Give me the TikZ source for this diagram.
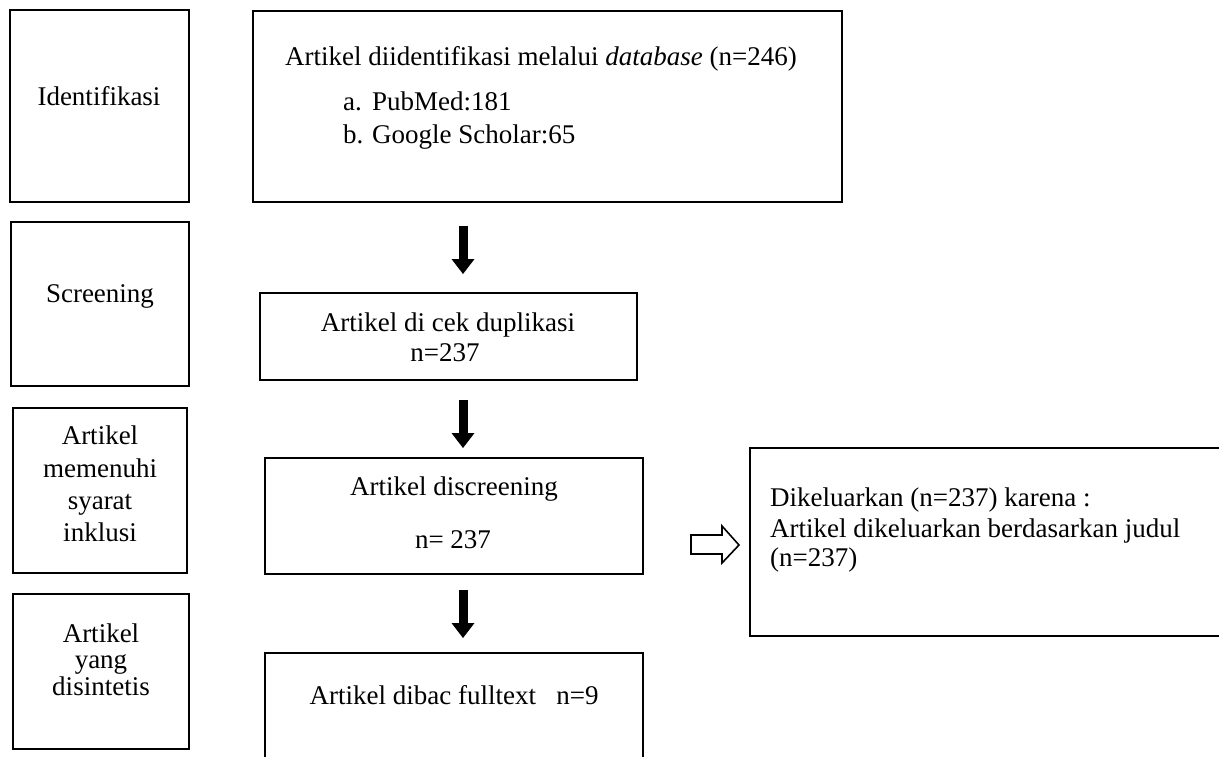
\documentclass[tikz,border=0pt]{standalone}
\usepackage{fontspec}
\setmainfont{Liberation Serif}
\usetikzlibrary{arrows.meta}
\tikzset{
  every node/.style={font=\fontsize{27}{31}\selectfont},
  box/.style={draw, line width=2pt, inner sep=0pt, rectangle},
  txt/.style={inner sep=0pt, anchor=base},
  txtl/.style={inner sep=0pt, anchor=base west},
  bigarrow/.style={line width=9pt, -{Triangle[width=23pt,length=15pt,line width=0pt]}},
  hollow/.style={draw, line width=1.6pt, fill=white, line join=miter}
}
\begin{document}
\begin{tikzpicture}[x=1pt,y=-1pt]
\useasboundingbox (0,0) rectangle (1219,756);
\clip (0,0) rectangle (1219,756);
% left column
\node[box, minimum width=179, minimum height=192] (l1) at (99.5,106) {};
\node[box, minimum width=178, minimum height=164] (l2) at (100,304) {};
\node[box, minimum width=174, minimum height=165] (l3) at (100,490.5) {};
\node[box, minimum width=176, minimum height=155] (l4) at (101,671.5) {};
\node[txt] (l1t) at (99,105) {Identifikasi};
\node[txt] (l2t) at (100,302) {Screening};
\node[txt] (l3a) at (100,444) {Artikel};
\node[txt] (l3b) at (100,477) {memenuhi};
\node[txt] (l3c) at (100,509) {syarat};
\node[txt] (l3d) at (100,541) {inklusi};
\node[txt] (l4a) at (101,642) {Artikel};
\node[txt] (l4b) at (101,668.5) {yang};
\node[txt] (l4c) at (101,695) {disintetis};
% main column
\node[box, minimum width=589, minimum height=191] (m1) at (547.5,106.5) {};
\node[box, minimum width=377, minimum height=87] (m2) at (448.5,336.5) {};
\node[box, minimum width=378, minimum height=116] (m3) at (454,516) {};
\node[box, minimum width=378, minimum height=130] (m4) at (454,718) {};
\node[txtl] (m1a) at (285,65) {Artikel diidentifikasi melalui \textit{database} (n=246)};
\node[txtl] (m1b) at (343,110) {a.};
\node[txtl] (m1c) at (372,110) {PubMed:181};
\node[txtl] (m1d) at (343,143) {b.};
\node[txtl] (m1e) at (372,143) {Google Scholar:65};
\node[txt] (m2a) at (448,331) {Artikel di cek duplikasi};
\node[txt] (m2b) at (445,361) {n=237};
\node[txt] (m3a) at (454,495) {Artikel discreening};
\node[txt] (m3b) at (453,548) {n= 237};
\node[txt] (m4a) at (454,704) {Artikel dibac fulltext\ \ \ n=9};
% right box
\node[box, minimum width=490, minimum height=188] (r) at (995,542) {};
\node[txtl] (ra) at (770,506) {Dikeluarkan (n=237) karena :};
\node[txtl] (rb) at (770,537) {Artikel dikeluarkan berdasarkan judul};
\node[txtl] (rc) at (770,566) {(n=237)};
% arrows
\coordinate (ax) at (463,0);
\draw[bigarrow, shorten <=23pt, shorten >=18pt] (m1.south -| ax) -- (m2.north -| ax);
\draw[bigarrow, shorten <=19pt, shorten >=9pt] (m2.south -| ax) -- (m3.north -| ax);
\draw[bigarrow, shorten <=15pt, shorten >=14pt] (m3.south -| ax) -- (m4.north -| ax);
% hollow arrow
\coordinate (ht) at (739,545);
\draw[hollow] (ht) -- ++(-17,-19) -- ++(0,9) -- ++(-31,0) -- ++(0,19) -- ++(31,0) -- ++(0,9) -- cycle;
\end{tikzpicture}
\end{document}
